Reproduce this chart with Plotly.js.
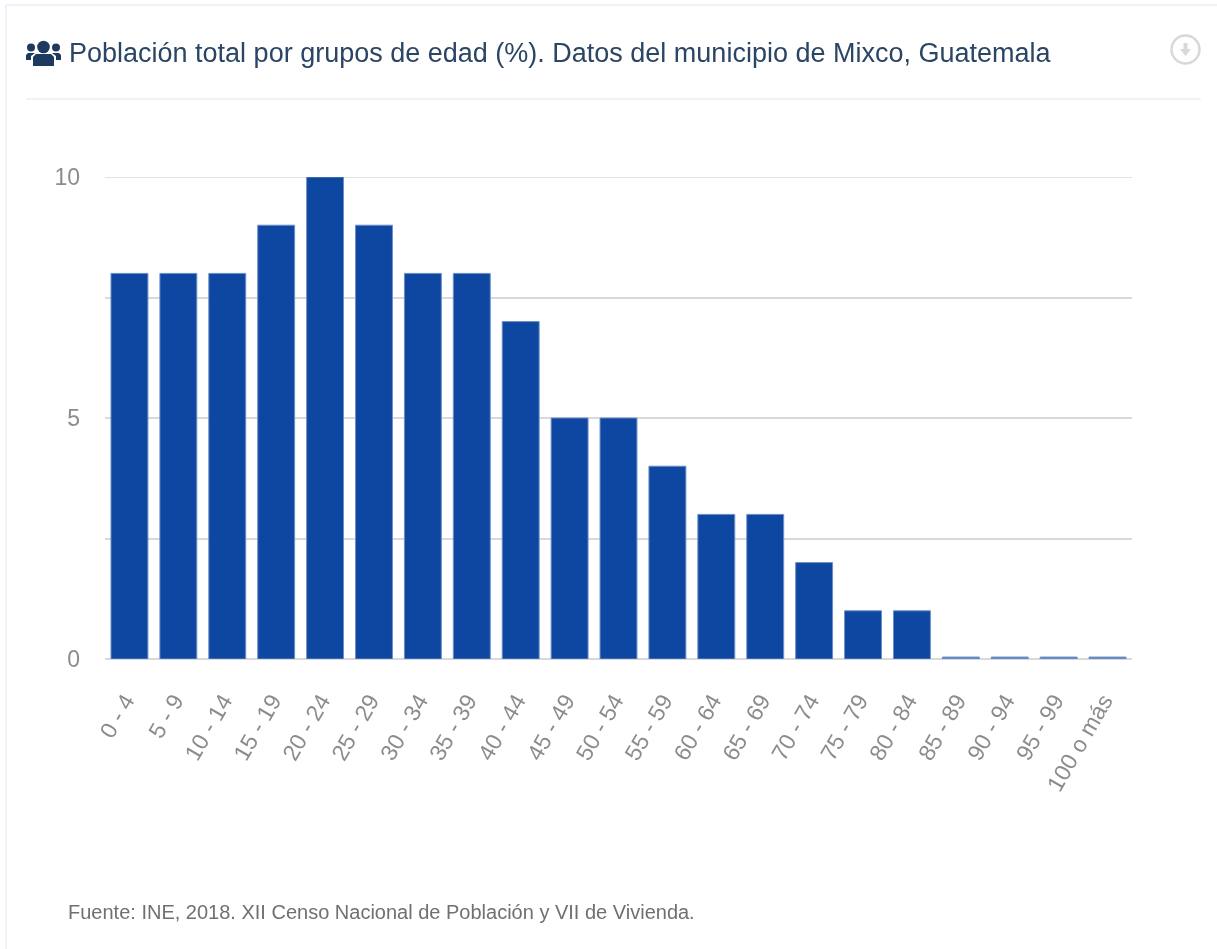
<!DOCTYPE html>
<html>
<head>
<meta charset="utf-8">
<script src="https://cdn.plot.ly/plotly-3.0.1.min.js"></script>
<style>html,body{margin:0;padding:0;background:#fff;overflow:hidden}#chart{width:1217px;height:949px;filter:blur(0.5px)}</style>
</head>
<body>
<div id="chart"></div>
<script>
const categories = ["0 - 4","5 - 9","10 - 14","15 - 19","20 - 24","25 - 29","30 - 34","35 - 39","40 - 44","45 - 49","50 - 54","55 - 59","60 - 64","65 - 69","70 - 74","75 - 79","80 - 84","85 - 89","90 - 94","95 - 99","100 o más"];
const values = [8,8,8,9,10,9,8,8,7,5,5,4,3,3,2,1,1,0.04,0.04,0.04,0.04];
const gridTicks = [0,2.5,5,7.5,10];
const tickLabels = ["0","","5","","10"];
const titleText = "Población total por grupos de edad (%). Datos del municipio de Mixco, Guatemala";
const sourceText = "Fuente: INE, 2018. XII Censo Nacional de Población y VII de Vivienda.";

const W = 1217, H = 949;
const L = 105, R = 1132, T = 177, B = 659;
const px = x => (x - L) / (R - L), py = y => (B - y) / (B - T);
function line(x0, y0, x1, y1, color, width) {
  return {type:"line", xref:"paper", yref:"paper", x0:px(x0), y0:py(y0), x1:px(x1), y1:py(y1), line:{color:color, width:width}};
}
function disc(cx, cy, r, fill, stroke, width) {
  return {type:"circle", xref:"paper", yref:"paper", x0:px(cx-r), x1:px(cx+r), y0:py(cy+r), y1:py(cy-r),
          fillcolor:fill, line:{color:stroke||fill, width:width||0}};
}
function poly(points, fill) {
  const d = points.map((p,i)=>(i?"L":"M")+px(p[0])+","+py(p[1])).join(" ")+" Z";
  return {type:"path", xref:"paper", yref:"paper", path:d, fillcolor:fill, line:{width:0}};
}
const ink = "#1f3a5f", pale = "#d6d8da", edge = "#eef2f9";
const shapes = [
  line(6,5,1217,5,edge,2),
  line(6,5,6,949,edge,2),
  line(26,99,1201,99,edge,2),
  // top gridline, which sits on the edge of the value range
  {type:"line", xref:"paper", yref:"y", x0:0, x1:1, y0:10, y1:10, layer:"below", line:{color:"#d9d9d9", width:1.5}},
  // people icon
  disc(43.5,47,6.3,ink), disc(31,47.5,4,ink), disc(56,47.5,4,ink),
  poly([[33,66],[33,57],[36,54],[51,54],[54,57],[54,66]],ink),
  poly([[26,60],[26,55],[28,53],[35,53],[31,56],[31,60]],ink),
  poly([[61,60],[61,55],[59,53],[52,53],[56,56],[56,60]],ink),
  // download icon
  disc(1185.5,49.5,14,"rgba(0,0,0,0)",pale,2.5),
  poly([[1183.5,43],[1187.5,43],[1187.5,49],[1191,49],[1185.5,56],[1180,49],[1183.5,49]],pale)
];

const trace = {
  type:"bar", x:categories, y:values, cliponaxis:false,
  marker:{color:values.map(v => v < 1 ? "#5f86c2" : "#0d47a1"), line:{color:"#6d8fc7", width:1}},
  hoverinfo:"x+y"
};
const layout = {
  width:W, height:H, margin:{l:L,r:W-R,t:T,b:H-B,pad:0},
  paper_bgcolor:"#fff", plot_bgcolor:"#fff", bargap:0.245, showlegend:false,
  font:{family:"Liberation Sans, Arial, sans-serif"},
  xaxis:{type:"category", tickangle:-60, showgrid:false, ticks:"", showline:false, zeroline:false,
         tickfont:{size:23,color:"#8c8c8c"}, automargin:false, ticklabelstandoff:23, ticklabelshift:-4},
  yaxis:{range:[0,10], tickmode:"array", tickvals:gridTicks, ticktext:tickLabels, showgrid:true,
         gridcolor:"#d9d9d9", gridwidth:1.5, zeroline:true, zerolinecolor:"#d9d9d9", zerolinewidth:2,
         ticks:"", showline:false, tickfont:{size:23,color:"#8c8c8c"}, automargin:false, ticklabelstandoff:24},
  shapes:shapes,
  annotations:[
    {xref:"paper",yref:"paper",x:px(68),y:py(53),xanchor:"left",yanchor:"middle",xshift:-1,showarrow:false,
     text:titleText,font:{size:27,color:"#2b4564"}},
    {xref:"paper",yref:"paper",x:px(68),y:py(912),xanchor:"left",yanchor:"middle",xshift:-2,showarrow:false,
     text:sourceText,font:{size:20,color:"#707070"}}
  ]
};
Plotly.newPlot("chart",[trace],layout,{displayModeBar:false,responsive:false});
</script>
</body>
</html>
